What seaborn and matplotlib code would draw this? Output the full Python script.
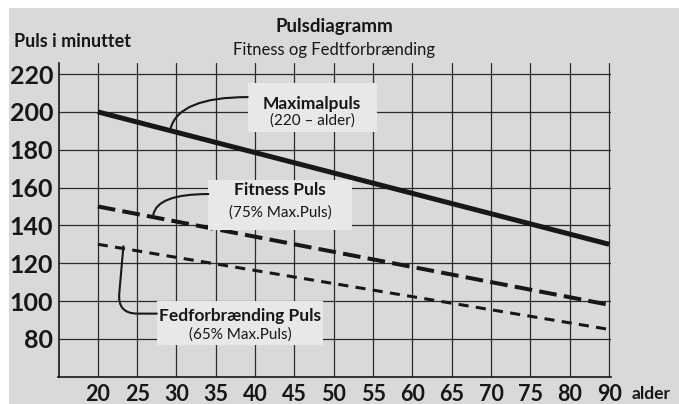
import numpy as np
import pandas as pd
import matplotlib
matplotlib.use("Agg")
import matplotlib.pyplot as plt
from matplotlib.patches import Rectangle
import seaborn as sns

# Age axis (categorical steps, 85 is skipped) and pulse axis
age_ticks = [20, 25, 30, 35, 40, 45, 50, 55, 60, 65, 70, 75, 80, 90]
pulse_ticks = [80, 100, 120, 140, 160, 180, 200, 220]

# Each curve is a straight line from age 20 to age 90
line_ages = [20, 90]
max_puls = [200, 130]
fitness_puls = [150, 98]
fat_puls = [130, 85]

title = "Pulsdiagramm"
subtitle = "Fitness og Fedtforbrænding"
y_title = "Puls i minuttet"
x_title = "alder"
label_heads = ["Maximalpuls", "Fitness Puls", "Fedforbrænding Puls"]
label_notes = ["(220 – alder)", "(75% Max.Puls)", "(65% Max.Puls)"]

sns.set_theme(style="white")
plt.rcParams["font.family"] = ["Lato", "DejaVu Sans"]

BG = "#d9d9d9"
BOX = "#e8e8e9"
INK = "#171717"
GRID = "#2a2a2a"

pos_of = {a: i for i, a in enumerate(age_ticks)}
series = {
    "max": max_puls,
    "fitness": fitness_puls,
    "fat": fat_puls,
}
df = pd.DataFrame(
    [(name, pos_of[a], v) for name, vals in series.items() for a, v in zip(line_ages, vals)],
    columns=["serie", "pos", "puls"],
)

fig = plt.figure(figsize=(6.79, 4.04), dpi=100)
fig.patch.set_facecolor("white")
fig.add_artist(Rectangle((9 / 679, 0), 1, 1 - 8 / 404, transform=fig.transFigure,
                         facecolor=BG, edgecolor="none", zorder=-10))

ax = fig.add_axes([58.5 / 679, 27.3 / 404, 552.2 / 679, 314 / 404])
ax.set_facecolor("none")

styles = {
    "max": dict(linewidth=3.6, linestyle="-"),
    "fitness": dict(linewidth=2.9, linestyle=(0, (4.4, 1.8))),
    "fat": dict(linewidth=2.2, linestyle=(0, (3.3, 2.4))),
}
for name, st in styles.items():
    sub = df[df["serie"] == name]
    sns.lineplot(data=sub, x="pos", y="puls", ax=ax, color=INK, zorder=2,
                 solid_capstyle="butt", dash_capstyle="butt", **st)

ax.set_xlim(-1, 13.04)
ax.set_ylim(60, 226)
ax.set_xticks(range(len(age_ticks)))
ax.set_xticklabels([str(a) for a in age_ticks], fontsize=15.5, fontweight="bold", color=INK)
ax.set_yticks(pulse_ticks)
ax.set_yticklabels([str(p) for p in pulse_ticks], fontsize=18, fontweight="bold", color=INK)
ax.tick_params(axis="x", length=0, pad=5.5)
ax.tick_params(axis="y", length=0, pad=3.9)
ax.set_xlabel("")
ax.set_ylabel("")
ax.grid(True, color=GRID, linewidth=0.9, zorder=0)
ax.set_axisbelow(True)
for side in ["top", "right"]:
    ax.spines[side].set_visible(False)
for side in ["left", "bottom"]:
    ax.spines[side].set_color(INK)
    ax.spines[side].set_linewidth(1.2)

# Label boxes (data coordinates): x0, x1, y0, y1
boxes = [
    (3.81, 7.09, 189.1, 215.1),
    (2.81, 6.455, 137.7, 163.9),
    (1.50, 5.733, 76.5, 99.9),
]
head_y = [201.7, 155.9, 89.7]
note_y = [193.3, 144.8, 80.0]
anchor_pos = [1.85, 1.41, 0.65]
anchor_vals = [max_puls, fitness_puls, fat_puls]
connectors = [
    "angle3,angleA=0,angleB=75",
    "angle3,angleA=0,angleB=80",
    "angle,angleA=0,angleB=85,rad=20",
]

for i, (x0, x1, y0, y1) in enumerate(boxes):
    ax.add_patch(Rectangle((x0, y0), x1 - x0, y1 - y0, facecolor=BOX,
                           edgecolor="none", zorder=3))
    xc = (x0 + x1) / 2
    ax.text(xc, head_y[i], label_heads[i], ha="center", va="baseline",
            fontsize=12.5, fontweight="bold", color=INK, zorder=4)
    ax.text(xc, note_y[i], label_notes[i], ha="center", va="baseline",
            fontsize=11, color=INK, zorder=4)
    ys = np.interp(anchor_pos[i], [pos_of[a] for a in line_ages], anchor_vals[i])
    start_y = y0 + 0.72 * (y1 - y0)
    ax.annotate("", xy=(anchor_pos[i], ys + 1.2), xytext=(x0, start_y),
                arrowprops=dict(arrowstyle="-", connectionstyle=connectors[i],
                                color=INK, lw=1.5, shrinkA=0, shrinkB=0),
                zorder=3)

fig.text(334 / 679, 1 - 31.7 / 404, title, ha="center", va="baseline",
         fontsize=13.5, fontweight="bold", color=INK)
fig.text(334 / 679, 1 - 55 / 404, subtitle, ha="center", va="baseline",
         fontsize=12, color=INK)
fig.text(14 / 679, 1 - 46.7 / 404, y_title, ha="left", va="baseline",
         fontsize=13, fontweight="bold", color=INK)
fig.text(631.7 / 679, 1 - 399 / 404, x_title, ha="left", va="baseline",
         fontsize=12.5, fontweight="bold", color=INK)

fig.savefig("out.png", dpi=100)
